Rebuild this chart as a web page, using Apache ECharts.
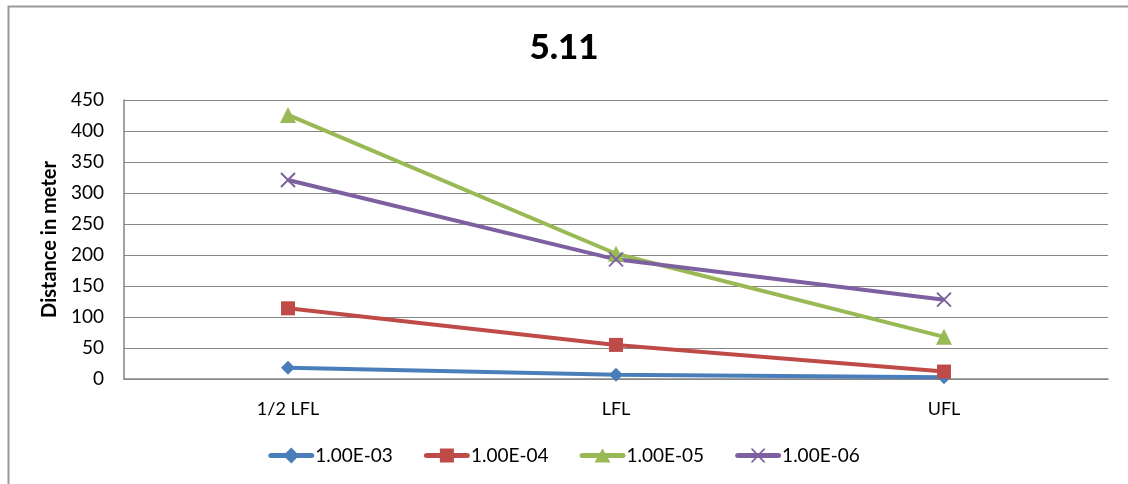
<!DOCTYPE html>
<html>
<head>
<meta charset="utf-8">
<script src="https://cdn.jsdelivr.net/npm/echarts@6/dist/echarts.min.js"></script>
<style>
  html, body { margin: 0; padding: 0; background: #fff; }
  #chart { width: 1128px; height: 484px; }
</style>
</head>
<body>
<div id="chart"></div>
<script>
// Distance (m) per flammability level for each frequency
const categories = ['1/2 LFL', 'LFL', 'UFL'];
const seriesNames = ['1.00E-03', '1.00E-04', '1.00E-05', '1.00E-06'];
const s1e3 = [18, 7, 3];
const s1e4 = [114, 55, 12];
const s1e5 = [426, 202, 68];
const s1e6 = [321, 193, 128];
const colors = ['#4a7ebb', '#be4b48', '#98b954', '#7d60a0'];

const FONT = 'Lato, "Liberation Sans", sans-serif';
const values = [s1e3, s1e4, s1e5, s1e6];

// point markers on the lines
const symbols = ['diamond', 'rect', 'triangle', 'path://M0,0 L10,10 M10,0 L0,10'];
const symbolSizes = [14, 14, 16, 14];

// legend keys: a thick rounded line with the marker in its middle (46x16 box)
const BAR = 'M3,5.5 L43,5.5 Q46,5.5 46,8 Q46,10.5 43,10.5 L3,10.5 Q0,10.5 0,8 Q0,5.5 3,5.5 Z ';
const legendIcons = [
  'path://' + BAR + 'M23,0 L31,8 L23,16 L15,8 Z',
  'path://' + BAR + 'M16,1 L30,1 L30,15 L16,15 Z',
  'path://' + BAR + 'M23,1 L31,15 L15,15 Z',
  'path://' + BAR + 'M16,1 L17.6,1 L30,14.2 L30,15 L28.4,15 L16,1.8 Z M28.4,1 L30,1 L30,1.8 L17.6,15 L16,15 L16,14.2 Z'
];

const chart = echarts.init(document.getElementById('chart'), null, { renderer: 'canvas' });

const series = seriesNames.map((name, i) => {
  const isCross = i === 3;
  return {
    name: name,
    type: 'line',
    data: values[i],
    symbol: symbols[i],
    symbolSize: symbolSizes[i],
    showSymbol: true,
    lineStyle: { color: colors[i], width: 4 },
    itemStyle: isCross
      ? { color: 'transparent', borderColor: colors[i], borderWidth: 2 }
      : { color: colors[i], borderWidth: 0 },
    emphasis: { disabled: true },
    animation: false
  };
});

chart.setOption({
  backgroundColor: '#ffffff',
  title: {
    text: '5.11',
    left: 'center',
    top: 25,
    textStyle: { fontFamily: FONT, fontWeight: 900, fontSize: 35, color: '#000' }
  },
  legend: {
    bottom: 14,
    left: 'center',
    itemWidth: 46,
    itemHeight: 16,
    itemGap: 31,
    textStyle: { fontFamily: FONT, fontSize: 19, color: '#000', padding: [0, 0, 0, -4] },
    data: seriesNames.map((n, i) => ({
      name: n,
      icon: legendIcons[i],
      itemStyle: { color: colors[i], borderWidth: 0 }
    }))
  },
  grid: { left: 124, right: 20, top: 100, bottom: 105 },
  xAxis: {
    type: 'category',
    data: categories,
    boundaryGap: true,
    axisLine: { lineStyle: { color: '#868686', width: 1.5 } },
    axisTick: { show: false },
    axisLabel: { fontFamily: FONT, fontSize: 18, color: '#000', margin: 21 }
  },
  yAxis: {
    type: 'value',
    min: 0,
    max: 450,
    interval: 50,
    name: 'Distance in meter',
    nameLocation: 'middle',
    nameGap: 64,
    nameTextStyle: { fontFamily: FONT, fontWeight: 'bold', fontSize: 20, color: '#000' },
    axisLine: { show: true, lineStyle: { color: '#868686', width: 1.5 } },
    axisTick: { show: false },
    splitLine: { lineStyle: { color: '#868686', width: 1 } },
    axisLabel: { fontFamily: FONT, fontSize: 19, color: '#000', margin: 20 }
  },
  graphic: [{
    type: 'rect',
    shape: { x: 8.5, y: 6.5, width: 1200, height: 600 },
    style: { fill: 'none', stroke: '#999', lineWidth: 2 },
    silent: true,
    z: -1
  }],
  series: series
});
</script>
</body>
</html>
